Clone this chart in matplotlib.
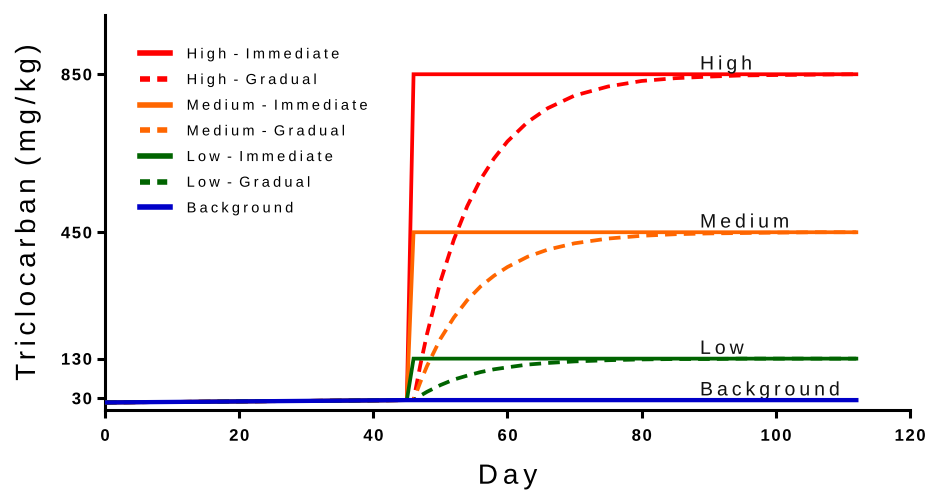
import matplotlib
matplotlib.use("Agg")
import numpy as np
import matplotlib.pyplot as plt
from matplotlib.lines import Line2D
from matplotlib.path import Path
from matplotlib.patheffects import AbstractPathEffect

plt.rcParams['font.family'] = ['Liberation Sans', 'DejaVu Sans']

# ---------------- data ----------------
bg_days = [0, 45, 112]
bg_vals = [19, 25, 25]

imm_days = [0, 45, 46, 112]
high_imm = [19, 25, 850, 850]
med_imm = [19, 25, 450, 450]
low_imm = [19, 25, 130, 130]

grad_days = [0, 45, 46, 47, 48, 50, 52, 54, 56, 58, 60, 63, 66, 70, 75, 80, 85, 90, 95, 100, 106, 112]
high_grad = [19, 25, 25, 113, 192, 325, 431, 516, 584, 637, 680, 729, 764, 796, 819, 833, 840, 844, 847, 848, 849, 850]
med_grad = [19, 25, 25, 70, 111, 180, 234, 278, 313, 340, 362, 388, 406, 422, 434, 441, 445, 447, 448, 449, 450, 450]
low_grad = [19, 25, 25, 36, 46, 63, 77, 87, 96, 103, 108, 115, 119, 123, 126, 128, 129, 129, 130, 130, 130, 130]

y_ticks = [30, 130, 450, 850]
x_ticks = [0, 20, 40, 60, 80, 100, 120]

level_labels = ["High", "Medium", "Low", "Background"]
level_values = [850, 450, 130, 25]
label_day = 88.7

legend_labels = ["High - Immediate", "High - Gradual", "Medium - Immediate",
                 "Medium - Gradual", "Low - Immediate", "Low - Gradual", "Background"]


# ------------- letter spacing (rendering only; text stays real text) -------------
class LetterSpacing(AbstractPathEffect):
    def __init__(self, spacing_px, align='left'):
        super().__init__()
        self.sp = spacing_px
        self.align = align

    def draw_path(self, renderer, gc, tpath, affine, rgbFace=None):
        verts = np.array(tpath.vertices, dtype=float)
        codes = tpath.codes
        if codes is None or len(verts) == 0:
            renderer.draw_path(gc, tpath, affine, rgbFace)
            return
        codes = np.asarray(codes)
        M = affine.get_matrix()
        scale = np.sqrt(abs(M[0, 0] * M[1, 1] - M[0, 1] * M[1, 0]))
        if scale == 0:
            renderer.draw_path(gc, tpath, affine, rgbFace)
            return
        sp_v = self.sp / scale
        starts = list(np.where(codes == Path.MOVETO)[0])
        if not starts:
            renderer.draw_path(gc, tpath, affine, rgbFace)
            return
        ends = starts[1:] + [len(verts)]
        groups = []
        g = -1
        cur_max = -np.inf
        for s, e in zip(starts, ends):
            valid = codes[s:e] != Path.CLOSEPOLY
            xs = verts[s:e][valid, 0]
            if len(xs) == 0:
                groups.append(max(g, 0))
                continue
            xmin, xmax = xs.min(), xs.max()
            if g < 0 or xmin > cur_max - 1e-6:
                g += 1
                cur_max = xmax
            else:
                cur_max = max(cur_max, xmax)
            groups.append(g)
        n = g + 1
        if self.align == 'center':
            off = (n - 1) / 2.0
        elif self.align == 'right':
            off = float(n - 1)
        else:
            off = 0.0
        for (s, e), gi in zip(zip(starts, ends), groups):
            verts[s:e, 0] += (gi - off) * sp_v
        renderer.draw_path(gc, Path(verts, codes), affine, rgbFace)


# ---------------- style ----------------
RED = '#FF0000'
ORANGE = '#FF6600'
GREEN = '#006400'
BLUE = '#0000C8'
LW = 2.7
DASH = (3.1, 1.9)

fig = plt.figure(figsize=(9.28, 4.90), dpi=100)
ax = fig.add_axes([0.1131, 0.1633, 0.8675, 0.8061])

ax.plot(imm_days, high_imm, color=RED, lw=LW, solid_joinstyle='miter', zorder=3)
ax.plot(grad_days, high_grad, color=RED, lw=LW, dashes=DASH, zorder=3)
ax.plot(imm_days, med_imm, color=ORANGE, lw=LW, solid_joinstyle='miter', zorder=3)
ax.plot(grad_days, med_grad, color=ORANGE, lw=LW, dashes=DASH, zorder=3)
ax.plot(imm_days, low_imm, color=GREEN, lw=LW, solid_joinstyle='miter', zorder=3)
ax.plot(grad_days, low_grad, color=GREEN, lw=LW, dashes=DASH, zorder=3)
ax.plot(bg_days, bg_vals, color=BLUE, lw=LW + 0.4, zorder=4)

for lab, val in zip(level_labels, level_values):
    t = ax.annotate(lab, xy=(label_day, val), xytext=(0, 3.4), textcoords='offset points',
                    ha='left', va='baseline', fontsize=14, color='#111111')
    t.set_path_effects([LetterSpacing(4.0, 'left')])

ax.set_xlim(0, 120)
ax.set_ylim(0, 1000)
ax.set_xticks(x_ticks)
ax.set_yticks(y_ticks)

tick_font = dict(family=['Liberation Sans', 'DejaVu Sans'], weight='bold', size=12)
ax.set_xticklabels([str(v) for v in x_ticks], fontdict=tick_font,
                   path_effects=[LetterSpacing(1.6, 'center')])
ax.set_yticklabels([str(v) for v in y_ticks], fontdict=tick_font,
                   path_effects=[LetterSpacing(1.6, 'right')])

for s in ['top', 'right']:
    ax.spines[s].set_visible(False)
for s in ['left', 'bottom']:
    ax.spines[s].set_linewidth(2.2)
    ax.spines[s].set_capstyle('projecting')
ax.tick_params(axis='both', direction='out', length=5.5, width=2.2, colors='black')
ax.tick_params(axis='x', pad=8)
ax.tick_params(axis='y', pad=4)

xl = ax.set_xlabel("Day", fontsize=20)
yl = ax.set_ylabel("Triclocarban (mg/kg)", fontsize=20)
xl.set_path_effects([LetterSpacing(5.0, 'center')])
yl.set_path_effects([LetterSpacing(4.6, 'center')])
ax.xaxis.set_label_coords(0.5, -0.136)
ax.yaxis.set_label_coords(-0.0795, 0.5)

handles = [
    Line2D([], [], color=RED, lw=4),
    Line2D([], [], color=RED, lw=4, dashes=(1.8, 1.3)),
    Line2D([], [], color=ORANGE, lw=4),
    Line2D([], [], color=ORANGE, lw=4, dashes=(1.8, 1.3)),
    Line2D([], [], color=GREEN, lw=4),
    Line2D([], [], color=GREEN, lw=4, dashes=(1.8, 1.3)),
    Line2D([], [], color=BLUE, lw=4),
]
leg = ax.legend(handles, legend_labels, loc='upper left', bbox_to_anchor=(0.0435, 0.918),
                frameon=False, fontsize=10.5, handlelength=2.05, handletextpad=1.15,
                labelspacing=0.80, borderaxespad=0, borderpad=0)
for t in leg.get_texts():
    t.set_path_effects([LetterSpacing(3.2, 'left')])

fig.savefig("out.png", dpi=100)
